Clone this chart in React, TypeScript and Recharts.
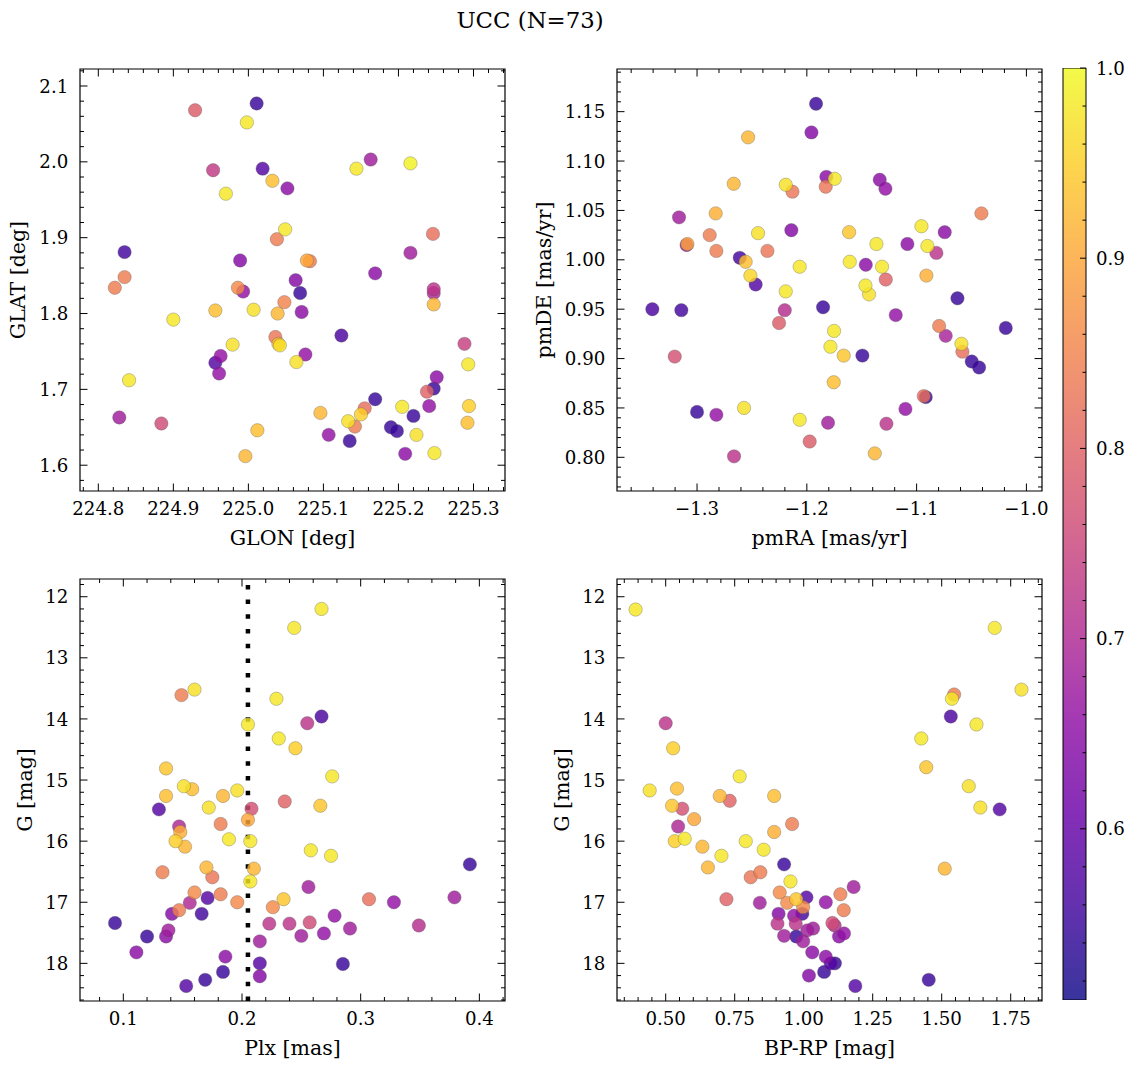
import React from "react";
import {
  Bar,
  BarChart,
  ReferenceArea,
  ReferenceLine,
  Scatter,
  ScatterChart,
  XAxis,
  YAxis,
} from "recharts";

const TITLE = "UCC (N=73)";
const VMIN = 0.51;
const VMAX = 1.0;
const PLX_CUT = 0.205;

// [GLON, GLAT, prob]
const POS_STARS: [number, number, number][] = [
  [224.929, 2.068, 0.79], [225.011, 2.077, 0.55], [224.998, 2.052, 0.98], [224.953, 1.989, 0.73],
  [225.019, 1.991, 0.58], [225.032, 1.975, 0.93], [225.052, 1.965, 0.65], [224.97, 1.958, 0.98],
  [225.144, 1.991, 0.98], [225.163, 2.003, 0.68], [225.216, 1.998, 0.99], [225.049, 1.911, 0.98],
  [225.038, 1.898, 0.84], [225.246, 1.905, 0.82], [224.835, 1.881, 0.56], [224.989, 1.87, 0.64],
  [225.078, 1.87, 0.9], [225.082, 1.869, 0.84], [225.216, 1.88, 0.68], [224.835, 1.848, 0.84],
  [225.063, 1.844, 0.64], [225.169, 1.853, 0.65], [224.822, 1.834, 0.84], [224.986, 1.834, 0.86],
  [224.993, 1.829, 0.66], [225.069, 1.827, 0.55], [225.247, 1.832, 0.72], [225.247, 1.827, 0.7],
  [225.247, 1.812, 0.92], [224.956, 1.804, 0.93], [225.007, 1.805, 0.97], [225.048, 1.815, 0.85],
  [225.039, 1.8, 0.92], [225.071, 1.802, 0.65], [224.9, 1.792, 0.98], [225.124, 1.771, 0.57],
  [225.036, 1.769, 0.83], [225.04, 1.76, 0.93], [225.042, 1.758, 0.97], [224.979, 1.759, 0.97],
  [224.956, 1.735, 0.58], [224.963, 1.744, 0.66], [224.961, 1.721, 0.66], [225.064, 1.736, 0.97],
  [225.076, 1.746, 0.66], [225.288, 1.76, 0.74], [225.293, 1.733, 0.98], [224.841, 1.712, 0.98],
  [225.251, 1.716, 0.65], [225.247, 1.701, 0.55], [225.238, 1.697, 0.8], [225.241, 1.678, 0.66],
  [225.169, 1.687, 0.55], [225.155, 1.675, 0.82], [225.15, 1.667, 0.95], [225.133, 1.658, 0.97],
  [225.142, 1.651, 0.84], [225.096, 1.669, 0.92], [225.205, 1.677, 0.98], [225.294, 1.678, 0.95],
  [225.292, 1.656, 0.93], [224.828, 1.663, 0.68], [224.884, 1.655, 0.76], [225.012, 1.646, 0.93],
  [224.996, 1.612, 0.92], [225.107, 1.64, 0.66], [225.135, 1.632, 0.55], [225.19, 1.65, 0.55],
  [225.198, 1.645, 0.55], [225.22, 1.665, 0.55], [225.224, 1.64, 0.97], [225.209, 1.615, 0.65],
  [225.248, 1.616, 0.98],
];

// [pmRA, pmDE, prob]
const PM_STARS: [number, number, number][] = [
  [-1.1916, 1.158, 0.55], [-1.1958, 1.129, 0.64], [-1.2535, 1.124, 0.92], [-1.2666, 1.077, 0.92],
  [-1.2192, 1.076, 0.97], [-1.2131, 1.069, 0.83], [-1.1822, 1.084, 0.65], [-1.1746, 1.082, 0.98],
  [-1.1828, 1.074, 0.83], [-1.1336, 1.081, 0.65], [-1.1284, 1.072, 0.66], [-1.3164, 1.043, 0.68],
  [-1.283, 1.047, 0.91], [-1.2885, 1.025, 0.84], [-1.3095, 1.015, 0.66], [-1.3088, 1.016, 0.9],
  [-1.2824, 1.009, 0.84], [-1.2444, 1.027, 0.97], [-1.2359, 1.009, 0.83], [-1.2611, 1.002, 0.56],
  [-1.2557, 0.998, 0.93], [-1.2514, 0.984, 0.96], [-1.2466, 0.975, 0.58], [-1.2141, 1.03, 0.64],
  [-1.2065, 0.993, 0.98], [-1.2192, 0.968, 0.98], [-1.1615, 1.028, 0.94], [-1.1609, 0.998, 0.98],
  [-1.1463, 0.995, 0.65], [-1.1366, 1.016, 0.98], [-1.1315, 0.993, 0.98], [-1.1281, 0.98, 0.8],
  [-1.1466, 0.974, 0.98], [-1.1433, 0.965, 0.97], [-1.1084, 1.016, 0.65], [-1.0956, 1.034, 0.98],
  [-1.0902, 1.014, 0.98], [-1.082, 1.007, 0.72], [-1.0744, 1.028, 0.65], [-1.0911, 0.984, 0.91],
  [-1.041, 1.047, 0.84], [-1.3407, 0.95, 0.57], [-1.3143, 0.949, 0.56], [-1.2201, 0.949, 0.71],
  [-1.2253, 0.936, 0.79], [-1.1852, 0.952, 0.55], [-1.119, 0.944, 0.66], [-1.0628, 0.961, 0.55],
  [-1.0188, 0.931, 0.55], [-1.0795, 0.933, 0.84], [-1.0735, 0.923, 0.69], [-1.0592, 0.915, 0.97],
  [-1.0583, 0.907, 0.82], [-1.0498, 0.897, 0.55], [-1.0431, 0.891, 0.55], [-1.3203, 0.902, 0.77],
  [-1.1752, 0.928, 0.98], [-1.1785, 0.912, 0.98], [-1.1664, 0.903, 0.94], [-1.1494, 0.903, 0.55],
  [-1.1755, 0.876, 0.93], [-1.3, 0.846, 0.55], [-1.2824, 0.843, 0.66], [-1.2572, 0.85, 0.97],
  [-1.2663, 0.801, 0.72], [-1.2065, 0.838, 0.98], [-1.1807, 0.835, 0.68], [-1.1974, 0.816, 0.79],
  [-1.1381, 0.804, 0.92], [-1.1275, 0.834, 0.72], [-1.1102, 0.849, 0.66], [-1.0917, 0.861, 0.55],
  [-1.0935, 0.862, 0.82],
];

// [Plx, G, prob]
const PLX_STARS: [number, number, number][] = [
  [0.267, 12.2, 0.98], [0.244, 12.51, 0.98], [0.149, 13.61, 0.84], [0.16, 13.52, 0.97],
  [0.229, 13.67, 0.98], [0.205, 14.09, 0.98], [0.255, 14.07, 0.72], [0.267, 13.96, 0.57],
  [0.231, 14.32, 0.98], [0.245, 14.48, 0.95], [0.136, 14.81, 0.94], [0.276, 14.94, 0.98],
  [0.151, 15.1, 0.97], [0.158, 15.15, 0.93], [0.136, 15.26, 0.93], [0.184, 15.26, 0.92],
  [0.196, 15.17, 0.97], [0.236, 15.35, 0.8], [0.266, 15.42, 0.94], [0.13, 15.48, 0.58],
  [0.172, 15.45, 0.97], [0.208, 15.47, 0.77], [0.205, 15.65, 0.9], [0.147, 15.76, 0.7],
  [0.148, 15.85, 0.91], [0.144, 16.0, 0.95], [0.152, 16.09, 0.92], [0.182, 15.72, 0.84],
  [0.189, 15.97, 0.98], [0.207, 16.0, 0.98], [0.258, 16.15, 0.98], [0.275, 16.24, 0.98],
  [0.392, 16.38, 0.55], [0.133, 16.51, 0.84], [0.17, 16.43, 0.92], [0.175, 16.59, 0.83],
  [0.21, 16.45, 0.92], [0.207, 16.66, 0.98], [0.256, 16.75, 0.68], [0.16, 16.84, 0.86],
  [0.171, 16.93, 0.58], [0.182, 16.87, 0.84], [0.196, 17.0, 0.86], [0.235, 16.95, 0.94],
  [0.226, 17.08, 0.86], [0.307, 16.95, 0.82], [0.328, 17.0, 0.66], [0.379, 16.92, 0.68],
  [0.156, 17.01, 0.7], [0.147, 17.13, 0.84], [0.141, 17.19, 0.64], [0.166, 17.19, 0.56],
  [0.093, 17.34, 0.55], [0.12, 17.56, 0.55], [0.138, 17.46, 0.68], [0.136, 17.56, 0.65],
  [0.111, 17.82, 0.65], [0.215, 17.64, 0.68], [0.223, 17.35, 0.72], [0.24, 17.35, 0.72],
  [0.257, 17.33, 0.76], [0.25, 17.55, 0.68], [0.269, 17.51, 0.66], [0.278, 17.22, 0.66],
  [0.291, 17.43, 0.68], [0.349, 17.38, 0.71], [0.186, 17.89, 0.65], [0.184, 18.14, 0.55],
  [0.169, 18.27, 0.55], [0.153, 18.37, 0.58], [0.215, 18.0, 0.58], [0.215, 18.21, 0.64],
  [0.285, 18.01, 0.55],
];

// [BP-RP, G, prob]
const CMD_STARS: [number, number, number][] = [
  [0.391, 12.21, 0.98], [1.692, 12.51, 0.98], [1.789, 13.52, 0.97], [1.545, 13.6, 0.84],
  [1.537, 13.67, 0.98], [1.533, 13.96, 0.57], [1.626, 14.09, 0.98], [0.5, 14.07, 0.72],
  [0.527, 14.48, 0.95], [1.426, 14.32, 0.98], [1.444, 14.79, 0.94], [0.768, 14.94, 0.98],
  [1.598, 15.1, 0.97], [0.442, 15.17, 0.97], [0.541, 15.14, 0.93], [0.696, 15.26, 0.92],
  [0.732, 15.34, 0.8], [0.893, 15.26, 0.93], [0.523, 15.42, 0.94], [0.56, 15.47, 0.77],
  [1.64, 15.45, 0.97], [1.71, 15.48, 0.58], [0.603, 15.64, 0.9], [0.545, 15.76, 0.7],
  [0.533, 16.0, 0.95], [0.569, 15.96, 0.98], [0.633, 16.09, 0.92], [0.702, 16.24, 0.98],
  [0.653, 16.43, 0.92], [0.79, 16.0, 0.98], [0.893, 15.85, 0.91], [0.855, 16.14, 0.98],
  [0.958, 15.72, 0.84], [0.929, 16.38, 0.55], [0.808, 16.59, 0.83], [0.843, 16.51, 0.84],
  [0.952, 16.66, 0.98], [1.511, 16.45, 0.92], [0.72, 16.95, 0.8], [0.841, 17.01, 0.68],
  [0.913, 16.84, 0.86], [0.94, 17.01, 0.86], [0.973, 16.95, 0.94], [1.01, 16.92, 0.58],
  [0.998, 17.08, 0.86], [1.08, 17.0, 0.66], [1.133, 16.87, 0.84], [1.181, 16.75, 0.68],
  [1.145, 17.13, 0.84], [0.909, 17.19, 0.64], [0.965, 17.22, 0.66], [0.995, 17.19, 0.56],
  [0.905, 17.35, 0.72], [0.971, 17.35, 0.72], [1.104, 17.34, 0.76], [1.112, 17.38, 0.71],
  [1.034, 17.43, 0.68], [1.013, 17.46, 0.68], [0.929, 17.55, 0.68], [0.973, 17.56, 0.55],
  [0.998, 17.64, 0.68], [1.128, 17.56, 0.65], [1.146, 17.51, 0.66], [1.031, 17.82, 0.65],
  [1.08, 17.89, 0.65], [1.098, 18.0, 0.58], [1.113, 18.0, 0.55], [1.074, 18.14, 0.55],
  [1.019, 18.2, 0.64], [1.187, 18.37, 0.58], [1.453, 18.27, 0.55],
];

const GLON_TICKS = [224.8, 224.9, 225.0, 225.1, 225.2, 225.3];
const GLAT_TICKS = [1.6, 1.7, 1.8, 1.9, 2.0, 2.1];
const PMRA_TICKS = [-1.3, -1.2, -1.1, -1.0];
const PMDE_TICKS = [0.8, 0.85, 0.9, 0.95, 1.0, 1.05, 1.1, 1.15];
const PLX_TICKS = [0.1, 0.2, 0.3, 0.4];
const G_TICKS = [12, 13, 14, 15, 16, 17, 18];
const BPRP_TICKS = [0.5, 0.75, 1.0, 1.25, 1.5, 1.75];
const CBAR_TICKS = [0.6, 0.7, 0.8, 0.9, 1.0];

const PLASMA = [
  "#0d0887", "#41049d", "#6a00a8", "#8f0da4", "#b12a90", "#cc4778",
  "#e16462", "#f2844b", "#fca636", "#fcce25", "#f0f921",
];

const FONT = "DejaVu Serif, DejaVuSerif, Liberation Serif, serif";
const TICK_FONT = 18.2;
const LABEL_FONT = 20.5;
const TITLE_FONT = 22.8;
const PW = 425;
const PH = 422;
const ML = 100; // chart margin-left 30 + y-axis width 70
const MT = 20;
const MAJOR_LEN = 7.5;
const MINOR_LEN = 4;
const ALPHA = 0.82;

function hexRgb(h: string) {
  return [1, 3, 5].map((i) => parseInt(h.slice(i, i + 2), 16));
}

function plasma(t: number) {
  const c = Math.max(0, Math.min(1, t)) * 10;
  const i = Math.min(9, Math.floor(c));
  const f = c - i;
  const a = hexRgb(PLASMA[i]);
  const b = hexRgb(PLASMA[i + 1]);
  const m = a.map((v, k) => Math.round(v + (b[k] - v) * f));
  return `rgb(${m[0]},${m[1]},${m[2]})`;
}

function isMajor(v: number, majors: number[]) {
  return majors.some((m) => Math.abs(m - v) < 1e-7);
}

function fmt(v: number, dec: number) {
  return v.toFixed(dec).replace("-", "\u2212");
}

function minorTicks(lo: number, hi: number, step: number, majors: number[]) {
  const out: number[] = [];
  const start = Math.ceil(lo / step - 1e-9);
  const end = Math.floor(hi / step + 1e-9);
  for (let k = start; k <= end; k++) {
    const v = +(k * step).toFixed(6);
    if (!isMajor(v, majors)) out.push(v);
  }
  return out;
}

const textStyle = { fontFamily: FONT };

const makeXTick = (majors: number[], dec: number) => (props: any) => {
  const { x, y, payload } = props;
  const v = payload.value;
  const major = isMajor(v, majors);
  const len = major ? MAJOR_LEN : MINOR_LEN;
  return (
    <g>
      <line x1={x} x2={x} y1={y} y2={y - len} stroke="#000" strokeWidth={1} />
      <line x1={x} x2={x} y1={y - PH} y2={y - PH + len} stroke="#000" strokeWidth={1} />
      {major && (
        <text x={x} y={y + 24} textAnchor="middle" style={textStyle} fontSize={TICK_FONT} fill="#000">
          {fmt(v, dec)}
        </text>
      )}
    </g>
  );
};

const makeYTick = (majors: number[], dec: number) => (props: any) => {
  const { x, y, payload } = props;
  const v = payload.value;
  const major = isMajor(v, majors);
  const len = major ? MAJOR_LEN : MINOR_LEN;
  return (
    <g>
      <line x1={x} x2={x + len} y1={y} y2={y} stroke="#000" strokeWidth={1} />
      <line x1={x + PW} x2={x + PW - len} y1={y} y2={y} stroke="#000" strokeWidth={1} />
      {major && (
        <text x={x - 11.7} y={y + 6.6} textAnchor="end" style={textStyle} fontSize={TICK_FONT} fill="#000">
          {fmt(v, dec)}
        </text>
      )}
    </g>
  );
};

const renderDot = (props: any) => {
  const { cx, cy } = props;
  const p = props.payload?.p ?? props.p;
  if (cx == null || cy == null) return <g />;
  return (
    <circle
      cx={cx}
      cy={cy}
      r={6.7}
      fill={plasma((p - VMIN) / (VMAX - VMIN))}
      fillOpacity={ALPHA}
      stroke="#555"
      strokeOpacity={0.55}
      strokeWidth={0.6}
    />
  );
};

interface PanelProps {
  left: number;
  top: number;
  stars: [number, number, number][];
  xDomain: [number, number];
  yDomain: [number, number];
  xMajor: number[];
  yMajor: number[];
  xStep: number;
  yStep: number;
  xDec: number;
  yDec: number;
  xLabel: string;
  yLabel: string;
  yLabelGap: number;
  reversed?: boolean;
  cut?: number;
}

function Panel(props: PanelProps) {
  const { left, top, stars, xDomain, yDomain, xMajor, yMajor, xStep, yStep, xDec, yDec, xLabel, yLabel, yLabelGap, reversed, cut } = props;
  const data = stars.map(([x, y, p]) => ({ x, y, p })).sort((a, b) => a.p - b.p);
  const xTicks = [...xMajor, ...minorTicks(xDomain[0], xDomain[1], xStep, xMajor)];
  const yTicks = [...yMajor, ...minorTicks(yDomain[0], yDomain[1], yStep, yMajor)];
  const W = ML + PW + 15;
  const H = MT + PH + 70;
  const lx = ML - yLabelGap;
  const ly = MT + PH / 2;

  return (
    <div style={{ position: "absolute", left: left - ML, top: top - MT, width: W, height: H }}>
      <ScatterChart width={W} height={H} margin={{ top: MT, right: 15, bottom: 10, left: ML - 70 }}>
        <XAxis
          type="number"
          dataKey="x"
          domain={xDomain}
          allowDataOverflow
          ticks={xTicks}
          interval={0}
          tickSize={0}
          tickMargin={0}
          axisLine={false}
          tickLine={false}
          height={60}
          tick={makeXTick(xMajor, xDec)}
        />
        <YAxis
          type="number"
          dataKey="y"
          domain={yDomain}
          allowDataOverflow
          reversed={reversed}
          ticks={yTicks}
          interval={0}
          tickSize={0}
          tickMargin={0}
          axisLine={false}
          tickLine={false}
          width={70}
          tick={makeYTick(yMajor, yDec)}
        />
        <Scatter data={data} shape={renderDot} isAnimationActive={false} />
        {cut !== undefined && (
          <ReferenceLine x={cut} stroke="#000" strokeWidth={4.5} strokeDasharray="4.5 10.2" />
        )}
        <ReferenceArea
          x1={xDomain[0]}
          x2={xDomain[1]}
          y1={yDomain[0]}
          y2={yDomain[1]}
          fill="none"
          fillOpacity={0}
          stroke="#000"
          strokeWidth={1.2}
          ifOverflow="visible"
        />
      </ScatterChart>
      <svg
        width={W}
        height={H}
        style={{ position: "absolute", left: 0, top: 0, pointerEvents: "none", overflow: "visible" }}
      >
        <text x={ML + PW / 2} y={MT + PH + 54} textAnchor="middle" style={textStyle} fontSize={LABEL_FONT} fill="#000">
          {xLabel}
        </text>
        <text
          x={lx}
          y={ly}
          textAnchor="middle"
          style={textStyle}
          fontSize={LABEL_FONT}
          fill="#000"
          transform={`rotate(-90, ${lx}, ${ly})`}
        >
          {yLabel}
        </text>
      </svg>
    </div>
  );
}

const CBAR_DATA = [{ name: "prob", range: [VMIN, VMAX] }];

const cbarTick = (props: any) => {
  const { x, y, payload } = props;
  const v = payload.value;
  const major = isMajor(v, CBAR_TICKS);
  const len = major ? 6 : 3.5;
  return (
    <g>
      <line x1={x} x2={x - len} y1={y} y2={y} stroke="#000" strokeWidth={1} />
      {major && (
        <text x={x + 10} y={y + 6.6} textAnchor="start" style={textStyle} fontSize={TICK_FONT} fill="#000">
          {fmt(v, 1)}
        </text>
      )}
    </g>
  );
};

function ColorBar() {
  const ticks = [...CBAR_TICKS, ...minorTicks(VMIN, VMAX, 0.02, CBAR_TICKS)];
  return (
    <div style={{ position: "absolute", left: 1053, top: 48 }}>
      <BarChart
        width={83}
        height={972}
        data={CBAR_DATA}
        margin={{ top: 20, right: 0, bottom: 20, left: 10 }}
        barCategoryGap={0}
        barGap={0}
      >
        <defs>
          <linearGradient id="cbarGrad" x1="0" y1="0" x2="0" y2="1">
            {PLASMA.slice()
              .reverse()
              .map((c, i) => (
                <stop key={i} offset={`${i * 10}%`} stopColor={c} stopOpacity={ALPHA} />
              ))}
          </linearGradient>
        </defs>
        <XAxis dataKey="name" hide />
        <YAxis
          type="number"
          orientation="right"
          domain={[VMIN, VMAX]}
          allowDataOverflow
          ticks={ticks}
          interval={0}
          tickSize={0}
          tickMargin={0}
          axisLine={false}
          tickLine={false}
          width={50}
          tick={cbarTick}
        />
        <Bar dataKey="range" fill="url(#cbarGrad)" stroke="#000" strokeWidth={1} isAnimationActive={false} />
      </BarChart>
    </div>
  );
}

export default function App() {
  return (
    <div
      style={{
        position: "absolute",
        left: 0,
        top: 0,
        width: 1136,
        height: 1068,
        background: "#fff",
        fontFamily: FONT,
        overflow: "hidden",
      }}
    >
      <svg width={1136} height={50} style={{ position: "absolute", left: 0, top: 0 }}>
        <text x={530} y={28.3} textAnchor="middle" style={textStyle} fontSize={TITLE_FONT} fill="#000">
          {TITLE}
        </text>
      </svg>
      <Panel
        left={80}
        top={69}
        stars={POS_STARS}
        xDomain={[224.7756, 225.342]}
        yDomain={[1.566, 2.1224]}
        xMajor={GLON_TICKS}
        yMajor={GLAT_TICKS}
        xStep={0.02}
        yStep={0.02}
        xDec={1}
        yDec={1}
        xLabel="GLON [deg]"
        yLabel="GLAT [deg]"
        yLabelGap={55}
      />
      <Panel
        left={617.3}
        top={69}
        stars={PM_STARS}
        xDomain={[-1.3729, -0.9858]}
        yDomain={[0.7659, 1.1932]}
        xMajor={PMRA_TICKS}
        yMajor={PMDE_TICKS}
        xStep={0.02}
        yStep={0.01}
        xDec={1}
        yDec={2}
        xLabel="pmRA [mas/yr]"
        yLabel="pmDE [mas/yr]"
        yLabelGap={65.6}
      />
      <Panel
        left={80}
        top={578.5}
        stars={PLX_STARS}
        xDomain={[0.0635, 0.4216]}
        yDomain={[11.71, 18.616]}
        xMajor={PLX_TICKS}
        yMajor={G_TICKS}
        xStep={0.02}
        yStep={0.2}
        xDec={1}
        yDec={0}
        xLabel="Plx [mas]"
        yLabel="G [mag]"
        yLabelGap={48.3}
        reversed
        cut={PLX_CUT}
      />
      <Panel
        left={617.3}
        top={578.5}
        stars={CMD_STARS}
        xDomain={[0.3236, 1.8634]}
        yDomain={[11.71, 18.616]}
        xMajor={BPRP_TICKS}
        yMajor={G_TICKS}
        xStep={0.05}
        yStep={0.2}
        xDec={2}
        yDec={0}
        xLabel="BP-RP [mag]"
        yLabel="G [mag]"
        yLabelGap={48.3}
        reversed
      />
      <ColorBar />
    </div>
  );
}
